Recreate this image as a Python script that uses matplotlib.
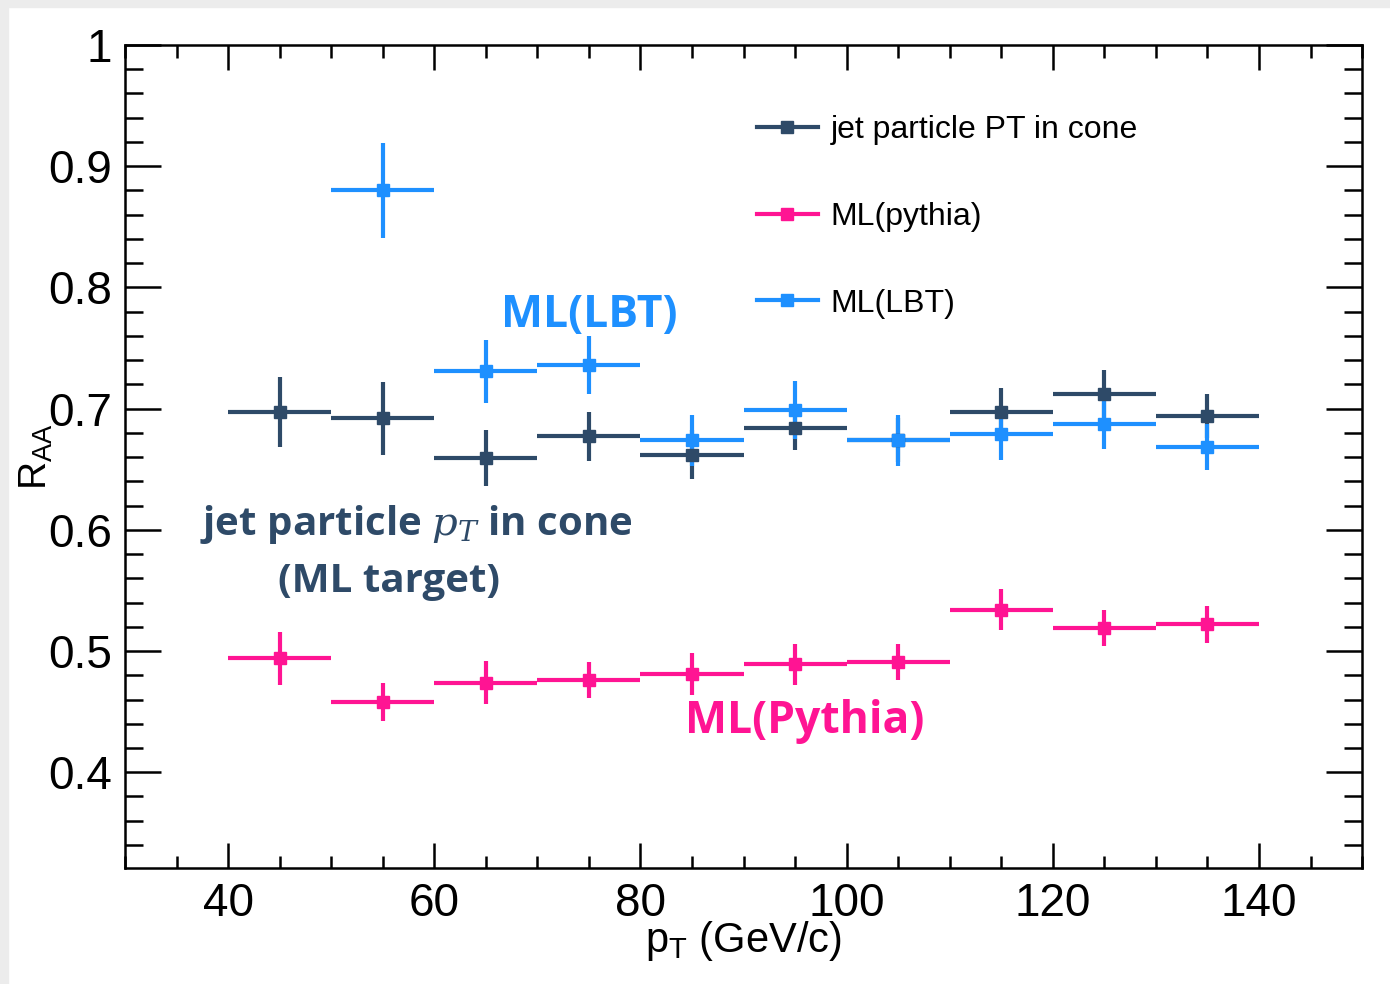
import matplotlib.pyplot as plt
from matplotlib.lines import Line2D
from matplotlib.patches import Rectangle
from matplotlib.ticker import MultipleLocator, FuncFormatter

# bin centres (GeV/c), each bin is 10 GeV wide
pt_centers = [45, 55, 65, 75, 85, 95, 105, 115, 125, 135]
lbt_centers = [55, 65, 75, 85, 95, 105, 115, 125, 135]
bin_half = 5

# jet particle pT in cone (ML target)
jet_raa = [0.697, 0.692, 0.659, 0.677, 0.662, 0.684, 0.674, 0.697, 0.712, 0.694]
jet_err = [0.029, 0.030, 0.023, 0.020, 0.020, 0.018, 0.018, 0.020, 0.020, 0.018]

# ML trained on pythia
pythia_raa = [0.494, 0.458, 0.474, 0.476, 0.481, 0.489, 0.491, 0.534, 0.519, 0.522]
pythia_err = [0.022, 0.016, 0.018, 0.015, 0.017, 0.017, 0.015, 0.017, 0.015, 0.015]

# ML trained on LBT
lbt_raa = [0.880, 0.731, 0.736, 0.674, 0.699, 0.674, 0.679, 0.687, 0.668]
lbt_err = [0.039, 0.026, 0.024, 0.021, 0.024, 0.021, 0.021, 0.020, 0.019]

c_jet = '#2e4a68'
c_pythia = '#ff1493'
c_lbt = '#1e90ff'

plt.rcParams['font.family'] = ['Liberation Sans', 'DejaVu Sans']
plt.rcParams['mathtext.fontset'] = 'dejavuserif'

fig = plt.figure(figsize=(13.9, 9.84), dpi=100)
fig.patch.set_facecolor('white')
# light grey frame along the top and left edges
fig.patches.append(Rectangle((0, 0.993), 1, 0.007, transform=fig.transFigure,
                             color='#ececec', zorder=-1))
fig.patches.append(Rectangle((0, 0), 0.006, 1, transform=fig.transFigure,
                             color='#ececec', zorder=-1))

ax = fig.add_axes([0.0899, 0.1179, 0.8900, 0.8364])

def draw_series(x, y, yerr, color):
    ax.errorbar(x, y, xerr=bin_half, yerr=yerr, fmt='s', color=color,
                ms=8, elinewidth=3, capsize=0)

draw_series(pt_centers, jet_raa, jet_err, c_jet)
draw_series(pt_centers, pythia_raa, pythia_err, c_pythia)
draw_series(lbt_centers, lbt_raa, lbt_err, c_lbt)

ax.set_xlim(30, 150)
ax.set_ylim(0.321, 1.0)

ax.xaxis.set_major_locator(MultipleLocator(20))
ax.xaxis.set_minor_locator(MultipleLocator(5))
ax.yaxis.set_major_locator(MultipleLocator(0.1))
ax.yaxis.set_minor_locator(MultipleLocator(0.02))
ax.yaxis.set_major_formatter(FuncFormatter(lambda v, p: '%g' % round(v, 2)))

ax.tick_params(which='both', direction='in', top=True, right=True,
               width=1.8, labelsize=33)
ax.tick_params(axis='y', which='major', length=26, pad=9)
ax.tick_params(axis='y', which='minor', length=13)
ax.tick_params(axis='x', which='major', length=18, pad=10)
ax.tick_params(axis='x', which='minor', length=9)
for s in ax.spines.values():
    s.set_linewidth(1.8)

ax.set_xlabel(r'p$_\mathregular{T}$ (GeV/c)', fontsize=30, labelpad=-5)
ax.set_ylabel(r'R$_\mathregular{AA}$', fontsize=28, labelpad=-4)

# legend without frame
handles = [Line2D([], [], color=c, lw=3, marker='s', ms=8)
           for c in (c_jet, c_pythia, c_lbt)]
ax.legend(handles, ['jet particle PT in cone', 'ML(pythia)', 'ML(LBT)'],
          loc='upper left', bbox_to_anchor=(0.511, 0.915), frameon=False,
          fontsize=23, handlelength=1.9, handletextpad=0.4,
          labelspacing=1.78, borderpad=0, borderaxespad=0)

ann = dict(family='Open Sans', fontweight='bold', ha='center', va='center')
ax.text(75.0, 0.777, 'ML(LBT)', color=c_lbt, fontsize=32, **ann)
ax.text(58.3, 0.604, r'jet particle $p_T$ in cone', color=c_jet,
        fontsize=29, **ann)
ax.text(55.6, 0.557, '(ML target)', color=c_jet, fontsize=29, **ann)
ax.text(95.9, 0.442, 'ML(Pythia)', color=c_pythia, fontsize=32, **ann)

fig.savefig('out.png', dpi=100)
